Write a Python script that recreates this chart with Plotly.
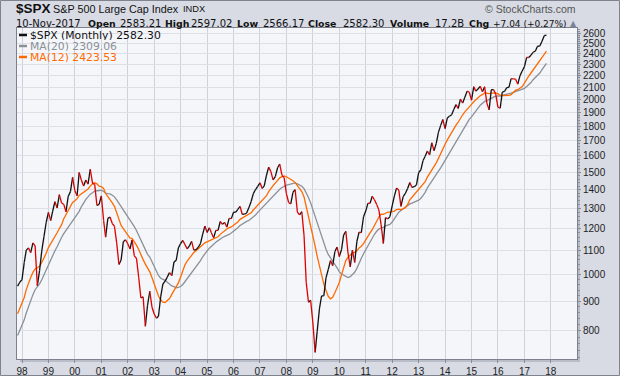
import plotly.graph_objects as go
import pandas as pd

# ---- S&P 500 monthly closes (Jan 1996 .. Nov 2017, last month partial) ----
c1996 = [636.02, 640.43, 645.50, 654.17, 669.12, 670.63, 639.95, 651.99, 687.33, 705.27, 757.02, 740.74]
c1997 = [786.16, 790.82, 757.12, 801.34, 848.28, 885.14, 954.31, 899.47, 947.28, 914.62, 955.40, 970.43]
c1998 = [980.28, 1049.34, 1101.75, 1111.75, 1090.82, 1133.84, 1120.67, 957.28, 1017.01, 1098.67, 1163.63, 1229.23]
c1999 = [1279.64, 1238.33, 1286.37, 1335.18, 1301.84, 1372.71, 1328.72, 1320.41, 1282.71, 1362.93, 1388.91, 1469.25]
c2000 = [1394.46, 1366.42, 1498.58, 1452.43, 1420.60, 1454.60, 1430.83, 1517.68, 1436.51, 1429.40, 1314.95, 1320.28]
c2001 = [1366.01, 1239.94, 1160.33, 1249.46, 1255.82, 1224.42, 1211.23, 1133.58, 1040.94, 1059.78, 1139.45, 1148.08]
c2002 = [1130.20, 1106.73, 1147.39, 1076.92, 1067.14, 989.82, 911.62, 916.07, 815.28, 885.76, 936.31, 879.82]
c2003 = [855.70, 841.15, 848.18, 916.92, 963.59, 974.50, 990.31, 1008.01, 995.97, 1050.71, 1058.20, 1111.92]
c2004 = [1131.13, 1144.94, 1126.21, 1107.30, 1120.68, 1140.84, 1101.72, 1104.24, 1114.58, 1130.20, 1173.82, 1211.92]
c2005 = [1181.27, 1203.60, 1180.59, 1156.85, 1191.50, 1191.33, 1234.18, 1220.33, 1228.81, 1207.01, 1249.48, 1248.29]
c2006 = [1280.08, 1280.66, 1294.83, 1310.61, 1270.09, 1270.20, 1276.66, 1303.82, 1335.85, 1377.94, 1400.63, 1418.30]
c2007 = [1438.24, 1406.82, 1420.86, 1482.37, 1530.62, 1503.35, 1455.27, 1473.99, 1526.75, 1549.38, 1481.14, 1468.36]
c2008 = [1378.55, 1330.63, 1322.70, 1385.59, 1400.38, 1280.00, 1267.38, 1282.83, 1166.36, 968.75, 896.24, 903.25]
c2009 = [825.88, 735.09, 797.87, 872.81, 919.14, 919.32, 987.48, 1020.62, 1057.08, 1036.19, 1095.63, 1115.10]
c2010 = [1073.87, 1104.49, 1169.43, 1186.69, 1089.41, 1030.71, 1101.60, 1049.33, 1141.20, 1183.26, 1180.55, 1257.64]
c2011 = [1286.12, 1327.22, 1325.83, 1363.61, 1345.20, 1320.64, 1292.28, 1218.89, 1131.42, 1253.30, 1246.96, 1257.60]
c2012 = [1312.41, 1365.68, 1408.47, 1397.91, 1310.33, 1362.16, 1379.32, 1406.58, 1440.67, 1412.16, 1416.18, 1426.19]
c2013 = [1498.11, 1514.68, 1569.19, 1597.57, 1630.74, 1606.28, 1685.73, 1632.97, 1681.55, 1756.54, 1805.81, 1848.36]
c2014 = [1782.59, 1859.45, 1872.34, 1883.95, 1923.57, 1960.23, 1930.67, 2003.37, 1972.29, 2018.05, 2067.56, 2058.90]
c2015 = [1994.99, 2104.50, 2067.89, 2085.51, 2107.39, 2063.11, 2103.84, 1972.18, 1920.03, 2079.36, 2080.41, 2043.94]
c2016 = [1940.24, 1932.23, 2059.74, 2065.30, 2096.95, 2098.86, 2173.60, 2170.95, 2168.27, 2126.15, 2198.81, 2238.83]
c2017 = [2278.87, 2363.64, 2362.72, 2384.20, 2411.80, 2423.41, 2470.30, 2471.65, 2519.36, 2575.26, 2582.30]

first_month = "1996-01-01"
visible_from = "1997-11-01"
y_ticks = [800, 900, 1000, 1100, 1200, 1300, 1400, 1500, 1600, 1700, 1800, 1900,
           2000, 2100, 2200, 2300, 2400, 2500, 2600]
y_minor = [v for v in range(720, 2660, 20) if v % 100 != 0]

# header quote (label, value)
quote_date = "10-Nov-2017"
quote_items = [("Open", "2583.21"), ("High", "2597.02"), ("Low", "2566.17"),
               ("Close", "2582.30"), ("Volume", "17.2B"), ("Chg", "+7.04 (+0.27%)")]
legend_items = [("$SPX (Monthly) 2582.30", "#111111"), ("MA(20) 2309.06", "#8a9098"),
                ("MA(12) 2423.53", "#ff6a00")]

closes = (c1996 + c1997 + c1998 + c1999 + c2000 + c2001 + c2002 + c2003 + c2004 + c2005 + c2006
          + c2007 + c2008 + c2009 + c2010 + c2011 + c2012 + c2013 + c2014 + c2015 + c2016 + c2017)
dates = pd.date_range(first_month, periods=len(closes), freq="MS")
s = pd.Series(closes, index=dates)
ma20 = s.rolling(20).mean()
ma12 = s.rolling(12).mean()

v = s[s.index >= visible_from]
m20 = ma20[ma20.index >= visible_from]
m12 = ma12[ma12.index >= visible_from]

xu, yu, xd, yd = [], [], [], []
vx, vy = list(v.index), list(v.values)
for i in range(1, len(vy)):
    if vy[i] < vy[i - 1]:
        xd += [vx[i - 1], vx[i], None]; yd += [vy[i - 1], vy[i], None]
    else:
        xu += [vx[i - 1], vx[i], None]; yu += [vy[i - 1], vy[i], None]

GRAY = "#8a9098"
ORANGE = "#ff6a00"
fig = go.Figure()
fig.add_trace(go.Scatter(x=m20.index, y=m20.values, mode="lines", line=dict(color=GRAY, width=1.3), hoverinfo="skip"))
fig.add_trace(go.Scatter(x=m12.index, y=m12.values, mode="lines", line=dict(color=ORANGE, width=1.3), hoverinfo="skip"))
fig.add_trace(go.Scatter(x=xu, y=yu, mode="lines", line=dict(color="#111111", width=1.3), hoverinfo="skip"))
fig.add_trace(go.Scatter(x=xd, y=yd, mode="lines", line=dict(color="#dd0000", width=1.3), hoverinfo="skip"))

W, H = 620, 376
L, R, T, B = 17, 43, 28, 17
PW, PH = W - L - R, H - T - B


def px(x):
    return (x - L) / PW


def py(y):
    return (H - B - y) / PH


ann = []


def text(x, y, t, size, color="#111111", family="DejaVu Sans", xanchor="left", height=None):
    a = dict(x=px(x), y=py(y), xref="paper", yref="paper", text=t, showarrow=False, borderpad=0,
             xanchor=xanchor, yanchor="middle", font=dict(size=size, color=color, family=family))
    if height is not None:
        a["height"] = height
        a["valign"] = "middle"
    ann.append(a)


text(15, 9, "<b>$SPX</b>", 13.5, family="Liberation Sans")
text(52, 9, "S&P 500 Large Cap Index", 10.8, family="Liberation Sans")
text(182, 9.5, "INDX", 9.3, family="Liberation Sans")
text(577, 8.5, "© StockCharts.com", 10.5, color="#555555", family="Liberation Sans", xanchor="right")

text(15, 23.5, quote_date, 10)
label_x = [88, 165, 237, 308, 390, 469]
value_x = [120, 191, 263, 343, 435, 493]
value_size = [10, 10, 10, 10, 10, 9]
for (lab, val), lx, vxp, vs in zip(quote_items, label_x, value_x, value_size):
    text(lx - 1, 23.5, "<b>" + lab + "</b>", 9.4)
    text(vxp - 1, 23.5, val, vs)
text(578, 23, "▲", 8, color="#7a8496", xanchor="right")

shapes = []
for (t, c), yy in zip(legend_items, [35, 46, 57]):
    text(28.5, yy, t, 10.8, color=c, height=10)
    shapes.append(dict(type="line", xref="paper", yref="paper", x0=px(19), x1=px(27), y0=py(yy), y1=py(yy),
                       line=dict(color=c, width=2.5)))

# plot shadow (right and bottom) and outer frame
shapes.append(dict(type="rect", xref="paper", yref="paper", x0=px(577), x1=px(580), y0=py(359), y1=py(31),
                   fillcolor="#b9bdc7", line=dict(width=0), layer="below"))
shapes.append(dict(type="rect", xref="paper", yref="paper", x0=px(20), x1=px(580), y0=py(362), y1=py(359),
                   fillcolor="#b9bdc7", line=dict(width=0), layer="below"))
shapes.append(dict(type="rect", xref="paper", yref="paper", x0=px(0.5), x1=px(619.5), y0=py(375.5), y1=py(0.5),
                   fillcolor="rgba(0,0,0,0)", line=dict(color="#7f838e", width=1)))

fig.update_layout(
    width=W, height=H, margin=dict(l=L, r=R, t=T, b=B, autoexpand=False),
    paper_bgcolor="#d8dbe4", plot_bgcolor="#f5f6fa", showlegend=False,
    annotations=ann, shapes=shapes,
    xaxis=dict(type="date", range=["1997-10-24", "2018-12-28"], tick0="1998-01-01", dtick="M12",
               tickformat="%y", showgrid=True, gridcolor="#cfd2da", gridwidth=1, ticks="outside", ticklen=3,
               tickcolor="#8a8e98", showline=True, mirror=True, linecolor="#7d818d", linewidth=1,
               zeroline=False, automargin=False,
               tickfont=dict(family="Liberation Sans", size=10, color="#222222")),
    yaxis=dict(type="log", side="right", range=[2.8549, 3.4241], tickvals=y_ticks,
               ticktext=[str(t) for t in y_ticks], showgrid=True, gridcolor="#dee0e7", gridwidth=1,
               ticks="outside", ticklen=3, tickcolor="#8a8e98", showline=True, mirror=True,
               linecolor="#7d818d", linewidth=1, zeroline=False, automargin=False,
               tickfont=dict(family="Liberation Sans", size=10, color="#222222"),
               minor=dict(tickvals=y_minor, ticks="outside", ticklen=2, tickcolor="#8a8e98", showgrid=False)),
)

fig.write_html("out.html", config={"displayModeBar": False},
               post_script="document.body.style.margin='0';document.body.style.overflow='hidden';")
